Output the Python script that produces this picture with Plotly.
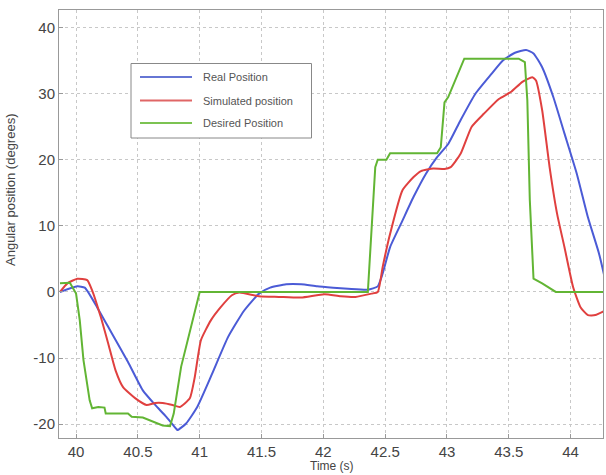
import plotly.graph_objects as go

# ---- data ----
real_t = [39.87, 40.01, 40.07, 40.17, 40.29, 40.42, 40.54, 40.64, 40.73, 40.81, 40.82, 40.89, 40.98,
          41.10, 41.23, 41.36, 41.48, 41.57, 41.70, 41.82, 41.95, 42.08, 42.20, 42.36, 42.44, 42.48,
          42.54, 42.64, 42.73, 42.83, 42.92, 43.01, 43.11, 43.23, 43.36, 43.45, 43.55, 43.64, 43.70,
          43.77, 43.86, 43.95, 44.05, 44.14, 44.23, 44.28]
real_v = [0.0, 0.85, 0.65, -2.3, -6.3, -10.6, -14.9, -17.1, -18.9, -20.7, -20.9, -19.9, -17.4,
          -12.4, -6.8, -2.8, -0.25, 0.65, 1.15, 1.15, 0.85, 0.65, 0.5, 0.35, 0.85, 2.8,
          6.8, 10.8, 14.4, 17.9, 20.4, 22.4, 26.0, 30.0, 33.0, 35.0, 36.2, 36.6, 36.1,
          34.0, 29.5, 24.0, 17.9, 11.3, 5.8, 1.8]

sim_t = [39.87, 39.93, 40.01, 40.09, 40.13, 40.20, 40.26, 40.32, 40.38, 40.48, 40.57, 40.64, 40.70,
         40.78, 40.84, 40.92, 40.96, 41.01, 41.09, 41.17, 41.26, 41.32, 41.48, 41.64, 41.82, 42.01,
         42.14, 42.26, 42.39, 42.44, 42.48, 42.54, 42.64, 42.73, 42.79, 42.89, 42.98, 43.03, 43.11,
         43.20, 43.30, 43.42, 43.52, 43.61, 43.69, 43.72, 43.77, 43.83, 43.89, 43.95, 44.02, 44.08,
         44.14, 44.20, 44.28]
sim_v = [0.0, 1.3, 2.0, 1.8, 0.25, -3.8, -7.8, -11.9, -14.4, -16.1, -17.1, -16.8, -16.8,
         -17.1, -17.4, -16.1, -12.9, -7.3, -4.3, -2.3, -0.5, -0.1, -0.65, -0.75, -0.85, -0.35,
         -0.65, -0.75, -0.25, 0.0, 3.8, 8.8, 15.4, 17.4, 18.3, 18.7, 18.6, 18.9, 20.9,
         25.0, 27.0, 29.2, 30.3, 31.8, 32.5, 32.0, 27.5, 18.9, 11.9, 6.8, 0.75, -2.3,
         -3.5, -3.5, -2.8]

des_t = [39.87, 39.95, 40.00, 40.03, 40.06, 40.11, 40.13, 40.18, 40.23, 40.24, 40.42, 40.45, 40.54,
         40.64, 40.70, 40.76, 40.79, 40.85, 40.95, 41.00, 42.36, 42.42, 42.44, 42.51, 42.54, 42.92,
         42.95, 42.98, 43.01, 43.08, 43.14, 43.58, 43.63, 43.65, 43.67, 43.70, 43.77, 43.88, 44.28]
des_v = [1.3, 1.4, -0.25, -4.3, -10.3, -16.4, -17.6, -17.4, -17.5, -18.4, -18.4, -18.9, -19.0,
         -19.7, -20.2, -20.3, -18.4, -11.3, -3.8, 0.0, 0.0, 18.9, 20.0, 20.0, 21.0, 21.0,
         21.9, 28.7, 29.5, 32.5, 35.3, 35.3, 34.8, 29.0, 13.9, 2.0, 1.3, 0.0, 0.0]

series_names = ["Real Position", "Simulated position", "Desired Position"]
x_ticks = [40, 40.5, 41, 41.5, 42, 42.5, 43, 43.5, 44]
x_tick_labels = ["40", "40.5", "41", "41.5", "42", "42.5", "43", "43.5", "44"]
y_ticks = [-20, -10, 0, 10, 20, 30, 40]
y_tick_labels = ["-20", "-10", "0", "10", "20", "30", "40"]

colors = ["#4b5bd6", "#e0403f", "#62b534"]
legend_colors = ["#6676d4", "#e06666", "#7cc352"]
shapes_mode = ["spline", "spline", "linear"]

W, H = 606, 475
ML, MR, MT, MB = 59, 3, 10, 37
PW, PH = W - ML - MR, H - MT - MB


def px(xp):
    return (xp - ML) / PW


def py(yp):
    return (H - MB - yp) / PH


fig = go.Figure()
for t, v, name, c, sm in zip([real_t, sim_t, des_t], [real_v, sim_v, des_v], series_names, colors, shapes_mode):
    line = dict(color=c, width=2, shape=sm)
    if sm == "spline":
        line["smoothing"] = 0.5
    fig.add_trace(go.Scatter(x=t, y=v, mode="lines", name=name, line=line, showlegend=False))

axis_common = dict(showline=True, linecolor="#999999", linewidth=1, mirror=True,
                   showgrid=True, gridcolor="#c8c8c8", griddash="dot", gridwidth=1,
                   zeroline=False, ticks="inside", ticklen=4, tickcolor="#999999",
                   tickfont=dict(family="Liberation Sans", size=15, color="#444444"))

fig.update_layout(
    width=W, height=H,
    margin=dict(l=ML, r=MR, t=MT, b=MB),
    paper_bgcolor="white", plot_bgcolor="white",
    xaxis=dict(range=[39.862, 44.262], tickvals=x_ticks, ticktext=x_tick_labels, **axis_common),
    yaxis=dict(range=[-22.1, 42.67], tickvals=y_ticks, ticktext=y_tick_labels, **axis_common),
    showlegend=False,
)

# manual legend box (matches the reference's wide line samples and spacing)
shapes = [dict(type="rect", xref="paper", yref="paper",
               x0=px(131), x1=px(311.5), y0=py(138), y1=py(63.5),
               line=dict(color="#888888", width=1), fillcolor="white", layer="above")]
annotations = []
rows = [77, 100.5, 123]
for name, c, yr in zip(series_names, legend_colors, rows):
    shapes.append(dict(type="line", xref="paper", yref="paper",
                       x0=px(140), x1=px(192), y0=py(yr), y1=py(yr),
                       line=dict(color=c, width=2), layer="above"))
    annotations.append(dict(text=name, xref="paper", yref="paper", x=px(201), y=py(yr),
                            xanchor="left", yanchor="middle", showarrow=False,
                            font=dict(family="Liberation Sans", size=11, color="#555555")))

annotations.append(dict(text="Angular position (degrees)", xref="paper", yref="paper",
                        x=px(10), y=py(190), textangle=-90, xanchor="center", yanchor="middle",
                        showarrow=False,
                        font=dict(family="Liberation Sans", size=13, color="#444444")))
annotations.append(dict(text="Time (s)", xref="paper", yref="paper",
                        x=px(332), y=py(466), xanchor="center", yanchor="middle",
                        showarrow=False,
                        font=dict(family="Liberation Sans", size=12, color="#444444")))

fig.update_layout(shapes=shapes, annotations=annotations)

fig.write_html("out.html")
